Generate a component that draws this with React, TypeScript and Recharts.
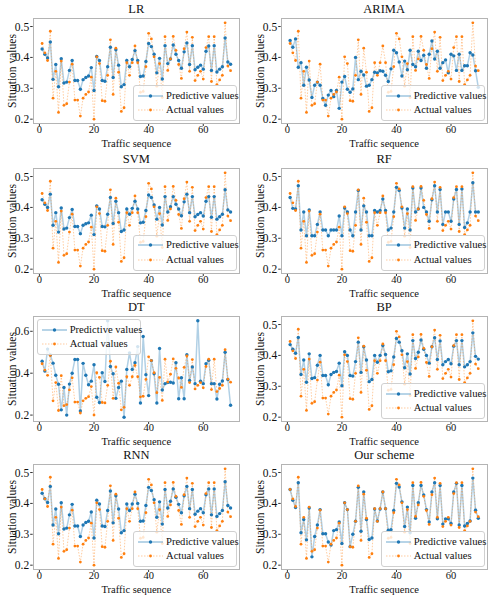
import React from 'react';
import { LineChart, Line, XAxis, YAxis } from 'recharts';

const seq = [1,2,3,4,5,6,7,8,9,10,11,12,13,14,15,16,17,18,19,20,21,22,23,24,25,26,27,28,29,30,31,32,33,34,35,36,37,38,39,40,41,42,43,44,45,46,47,48,49,50,51,52,53,54,55,56,57,58,59,60,61,62,63,64,65,66,67,68,69,70];

const actualValues = [
  0.445, 0.415, 0.39, 0.485, 0.268, 0.355, 0.222, 0.388, 0.245, 0.25,
  0.32, 0.378, 0.262, 0.262, 0.21, 0.268, 0.28, 0.288, 0.336, 0.2,
  0.402, 0.38, 0.26, 0.258, 0.342, 0.457, 0.28, 0.43, 0.352, 0.225,
  0.237, 0.383, 0.342, 0.383, 0.437, 0.383, 0.287, 0.29, 0.37, 0.478,
  0.46, 0.402, 0.307, 0.38, 0.27, 0.467, 0.358, 0.395, 0.468, 0.423,
  0.377, 0.332, 0.428, 0.482, 0.355, 0.465, 0.325, 0.342, 0.355, 0.33,
  0.432, 0.467, 0.322, 0.467, 0.312, 0.327, 0.342, 0.512, 0.372, 0.357,
];

const lrPred = [
  0.427, 0.41, 0.398, 0.45, 0.329, 0.377, 0.305, 0.396, 0.317, 0.32,
  0.358, 0.39, 0.325, 0.325, 0.297, 0.328, 0.335, 0.34, 0.367, 0.293,
  0.403, 0.39, 0.325, 0.323, 0.37, 0.433, 0.335, 0.425, 0.375, 0.305,
  0.312, 0.39, 0.37, 0.393, 0.422, 0.39, 0.338, 0.34, 0.387, 0.445,
  0.435, 0.41, 0.35, 0.397, 0.33, 0.438, 0.38, 0.395, 0.44, 0.41,
  0.39, 0.365, 0.418, 0.447, 0.377, 0.438, 0.36, 0.368, 0.375, 0.362,
  0.42, 0.437, 0.358, 0.438, 0.353, 0.362, 0.37, 0.463, 0.385, 0.378,
];

const arimaPred = [
  0.455, 0.433, 0.46, 0.368, 0.383, 0.31, 0.368, 0.327, 0.27, 0.31,
  0.32, 0.31, 0.267, 0.245, 0.278, 0.293, 0.273, 0.293, 0.235, 0.32,
  0.338, 0.297, 0.287, 0.298, 0.4, 0.328, 0.355, 0.343, 0.307, 0.31,
  0.328, 0.352, 0.35, 0.357, 0.355, 0.342, 0.322, 0.363, 0.423, 0.415,
  0.385, 0.34, 0.388, 0.36, 0.423, 0.377, 0.37, 0.42, 0.39, 0.407,
  0.365, 0.41, 0.453, 0.395, 0.42, 0.365, 0.383, 0.392, 0.35, 0.41,
  0.405, 0.358, 0.41, 0.358, 0.373, 0.373, 0.415, 0.408, 0.357, 0.303,
];

const svmPred = [
  0.425, 0.41, 0.4, 0.443, 0.342, 0.383, 0.32, 0.398, 0.33, 0.333,
  0.367, 0.393, 0.338, 0.338, 0.315, 0.342, 0.347, 0.35, 0.375, 0.312,
  0.405, 0.395, 0.338, 0.337, 0.378, 0.432, 0.348, 0.42, 0.383, 0.322,
  0.327, 0.395, 0.378, 0.397, 0.42, 0.395, 0.35, 0.352, 0.39, 0.44,
  0.432, 0.408, 0.362, 0.4, 0.343, 0.435, 0.385, 0.402, 0.435, 0.41,
  0.395, 0.373, 0.418, 0.443, 0.383, 0.435, 0.37, 0.377, 0.383, 0.372,
  0.42, 0.435, 0.368, 0.435, 0.362, 0.37, 0.378, 0.457, 0.392, 0.385,
];

const rfPred = [
  0.432, 0.397, 0.395, 0.47, 0.327, 0.385, 0.308, 0.392, 0.308, 0.308,
  0.345, 0.385, 0.327, 0.327, 0.308, 0.327, 0.327, 0.327, 0.372, 0.308,
  0.398, 0.385, 0.327, 0.308, 0.385, 0.455, 0.327, 0.405, 0.385, 0.308,
  0.308, 0.39, 0.385, 0.39, 0.427, 0.39, 0.327, 0.333, 0.385, 0.465,
  0.455, 0.398, 0.333, 0.395, 0.327, 0.463, 0.385, 0.395, 0.463, 0.4,
  0.385, 0.355, 0.425, 0.47, 0.385, 0.458, 0.345, 0.385, 0.385, 0.355,
  0.427, 0.458, 0.345, 0.46, 0.335, 0.35, 0.385, 0.48, 0.385, 0.385,
];

const dtPred = [
  0.457, 0.41, 0.515, 0.487, 0.448, 0.39, 0.347, 0.225, 0.332, 0.2,
  0.348, 0.4, 0.465, 0.465, 0.22, 0.447, 0.39, 0.345, 0.362, 0.44,
  0.285, 0.26, 0.402, 0.36, 0.65, 0.432, 0.397, 0.28, 0.332, 0.362,
  0.19, 0.418, 0.497, 0.418, 0.45, 0.527, 0.258, 0.575, 0.393, 0.293,
  0.46, 0.397, 0.258, 0.518, 0.32, 0.35, 0.355, 0.357, 0.353, 0.45,
  0.278, 0.378, 0.278, 0.488, 0.365, 0.43, 0.35, 0.65, 0.362, 0.35,
  0.445, 0.462, 0.35, 0.35, 0.277, 0.347, 0.363, 0.5, 0.37, 0.247,
];

const bpPred = [
  0.435, 0.42, 0.407, 0.458, 0.338, 0.385, 0.313, 0.405, 0.325, 0.328,
  0.368, 0.4, 0.335, 0.335, 0.305, 0.338, 0.345, 0.348, 0.375, 0.302,
  0.412, 0.4, 0.335, 0.333, 0.38, 0.443, 0.345, 0.428, 0.385, 0.315,
  0.322, 0.4, 0.378, 0.4, 0.432, 0.403, 0.347, 0.35, 0.395, 0.455,
  0.443, 0.415, 0.36, 0.405, 0.34, 0.448, 0.39, 0.41, 0.45, 0.42,
  0.4, 0.375, 0.428, 0.457, 0.387, 0.447, 0.37, 0.38, 0.387, 0.373,
  0.43, 0.448, 0.37, 0.448, 0.363, 0.37, 0.38, 0.473, 0.397, 0.388,
];

const rnnPred = [
  0.433, 0.415, 0.403, 0.455, 0.33, 0.382, 0.302, 0.402, 0.317, 0.32,
  0.363, 0.397, 0.327, 0.327, 0.293, 0.33, 0.338, 0.342, 0.372, 0.288,
  0.41, 0.398, 0.327, 0.325, 0.377, 0.44, 0.337, 0.425, 0.382, 0.305,
  0.312, 0.398, 0.377, 0.398, 0.43, 0.4, 0.342, 0.343, 0.393, 0.452,
  0.442, 0.412, 0.355, 0.405, 0.333, 0.445, 0.385, 0.407, 0.447, 0.42,
  0.397, 0.37, 0.425, 0.455, 0.383, 0.445, 0.365, 0.375, 0.383, 0.37,
  0.428, 0.447, 0.363, 0.447, 0.358, 0.367, 0.377, 0.47, 0.393, 0.385,
];

const oursPred = [
  0.445, 0.41, 0.387, 0.467, 0.305, 0.348, 0.282, 0.385, 0.227, 0.293,
  0.33, 0.38, 0.302, 0.302, 0.275, 0.265, 0.312, 0.315, 0.34, 0.27,
  0.402, 0.38, 0.26, 0.3, 0.342, 0.452, 0.31, 0.437, 0.348, 0.283,
  0.288, 0.382, 0.343, 0.382, 0.437, 0.383, 0.313, 0.315, 0.377, 0.465,
  0.453, 0.405, 0.325, 0.388, 0.305, 0.458, 0.352, 0.402, 0.458, 0.427,
  0.38, 0.34, 0.437, 0.467, 0.35, 0.458, 0.333, 0.35, 0.35, 0.335,
  0.437, 0.465, 0.33, 0.458, 0.327, 0.335, 0.343, 0.482, 0.378, 0.352,
];

const xTicks = [0, 20, 40, 60];
const yTicksStd = [0.2, 0.3, 0.4, 0.5];
const yTicksDT = [0.2, 0.4, 0.6];

const titles = ['LR', 'ARIMA', 'SVM', 'RF', 'DT', 'BP', 'RNN', 'Our scheme'];
const xLabel = 'Traffic sequence';
const yLabel = 'Situation values';
const predLabel = 'Predictive values';
const actualLabel = 'Actual values';

const FONT = '"Liberation Serif", "Times New Roman", "DejaVu Serif", serif';
const BLUE = '#1f77b4';
const ORANGE = '#ff7f0e';

const COLS = [
  { chartLeft: 0, plotLeft: 32.7, plotRight: 240, ylabX: 11.5 },
  { chartLeft: 250, plotLeft: 280.7, plotRight: 487.7, ylabX: 259.5 },
];
const ROW_TOPS = [18.3, 167.5, 316, 464];
const PLOT_H = 106;
const TOP_M = 20;
const XAXIS_H = 24;

function fmt(v: number) {
  return v.toFixed(1);
}

function LegendBox({ left, top }: { left: number; top: number }) {
  const handle = (color: string, dashed: boolean, y: number, r: number) => (
    <svg width={28} height={12} style={{ position: 'absolute', left: 3, top: y - 6 }}>
      <line x1={1} x2={26} y1={6} y2={6} stroke={color} strokeOpacity={0.4}
        strokeWidth={dashed ? 1 : 1.6} strokeDasharray={dashed ? '1.5 1.5' : undefined} />
      <circle cx={13.5} cy={6} r={r} fill={color} />
    </svg>
  );
  return (
    <div style={{
      position: 'absolute', left, top, width: 104, height: 36, boxSizing: 'border-box',
      background: 'rgba(255,255,255,0.8)', border: '1px solid #d0d0d0', borderRadius: 3,
      fontFamily: FONT, fontSize: 10.6, color: '#111', pointerEvents: 'none',
    }}>
      {handle(BLUE, false, 9.5, 1.7)}
      {handle(ORANGE, true, 24, 1.4)}
      <div style={{ position: 'absolute', left: 32, top: 2.5, lineHeight: '14px', whiteSpace: 'nowrap' }}>{predLabel}</div>
      <div style={{ position: 'absolute', left: 32, top: 17, lineHeight: '14px', whiteSpace: 'nowrap' }}>{actualLabel}</div>
    </div>
  );
}

function Panel({ idx, pred, yTicks, legendTopLeft }: { idx: number; pred: number[]; yTicks: number[]; legendTopLeft?: boolean }) {
  const col = COLS[idx % 2];
  const rowTop = ROW_TOPS[Math.floor(idx / 2)];
  const rows = seq.map((t, i) => ({ t, pred: pred[i], actual: actualValues[i] }));
  const all = pred.concat(actualValues);
  const lo = Math.min(...all);
  const hi = Math.max(...all);
  const pad = (hi - lo) * 0.05;
  const plotW = col.plotRight - col.plotLeft;
  const chartW = col.plotRight + 10 - col.chartLeft;
  const chartH = TOP_M + PLOT_H + XAXIS_H;
  const plotBottom = rowTop + PLOT_H;
  return (
    <>
      <div style={{ position: 'absolute', left: col.chartLeft, top: rowTop - TOP_M }}>
        <LineChart width={chartW} height={chartH} data={rows}
          margin={{ top: TOP_M, right: 10, bottom: 0, left: 0 }}>
          <XAxis dataKey="t" type="number" domain={[-2.45, 73.45]} ticks={xTicks} allowDataOverflow
            height={XAXIS_H} axisLine={false} tickLine={{ stroke: '#333' }} tickSize={2} tickMargin={0}
            tick={{ fill: '#111', fontSize: 10.5, fontFamily: FONT }} interval={0} />
          <YAxis type="number" domain={[lo - pad, hi + pad]} ticks={yTicks} allowDataOverflow
            width={col.plotLeft - col.chartLeft} axisLine={false} tickLine={{ stroke: '#333' }} tickSize={2.5} tickMargin={1}
            tick={{ fill: '#111', fontSize: 11.5, fontFamily: FONT }} tickFormatter={fmt} interval={0} />
          <Line dataKey="pred" type="linear" stroke={BLUE} strokeOpacity={0.35} strokeWidth={1.5}
            dot={{ r: 1.7, fill: BLUE, stroke: 'none', fillOpacity: 1 }} activeDot={false} isAnimationActive={false} />
          <Line dataKey="actual" type="linear" stroke={ORANGE} strokeOpacity={0.4} strokeWidth={1}
            strokeDasharray="1.5 1.5"
            dot={{ r: 1.4, fill: ORANGE, stroke: 'none', fillOpacity: 1, strokeDasharray: '' }} activeDot={false} isAnimationActive={false} />
        </LineChart>
      </div>
      <div style={{
        position: 'absolute', left: col.plotLeft, top: rowTop, width: plotW, height: PLOT_H,
        border: '1px solid #b4b4b4', boxSizing: 'border-box', pointerEvents: 'none',
      }} />
      <div style={{
        position: 'absolute', left: col.plotLeft, top: rowTop - 16, width: plotW, textAlign: 'center',
        fontFamily: FONT, fontSize: 12.5, lineHeight: '14px', color: '#111',
      }}>{titles[idx]}</div>
      <div style={{
        position: 'absolute', left: col.plotLeft, top: plotBottom + 14, width: plotW, textAlign: 'center',
        fontFamily: FONT, fontSize: 10.5, lineHeight: '11px', color: '#111',
      }}>{xLabel}</div>
      <div style={{
        position: 'absolute', left: col.ylabX - 50, top: rowTop + PLOT_H / 2 - 6, width: 100, textAlign: 'center',
        fontFamily: FONT, fontSize: 11.5, lineHeight: '12px', color: '#111', transform: 'rotate(-90deg)',
        whiteSpace: 'nowrap',
      }}>{yLabel}</div>
      {legendTopLeft
        ? <LegendBox left={col.plotLeft + 4} top={rowTop + 3} />
        : <LegendBox left={col.plotRight - 107} top={plotBottom - 39} />}
    </>
  );
}

export default function App() {
  return (
    <div style={{ position: 'absolute', left: 0, top: 0, width: 499, height: 600, background: '#fff', overflow: 'hidden' }}>
      <Panel idx={0} pred={lrPred} yTicks={yTicksStd} />
      <Panel idx={1} pred={arimaPred} yTicks={yTicksStd} />
      <Panel idx={2} pred={svmPred} yTicks={yTicksStd} />
      <Panel idx={3} pred={rfPred} yTicks={yTicksStd} />
      <Panel idx={4} pred={dtPred} yTicks={yTicksDT} legendTopLeft />
      <Panel idx={5} pred={bpPred} yTicks={yTicksStd} />
      <Panel idx={6} pred={rnnPred} yTicks={yTicksStd} />
      <Panel idx={7} pred={oursPred} yTicks={yTicksStd} />
    </div>
  );
}
